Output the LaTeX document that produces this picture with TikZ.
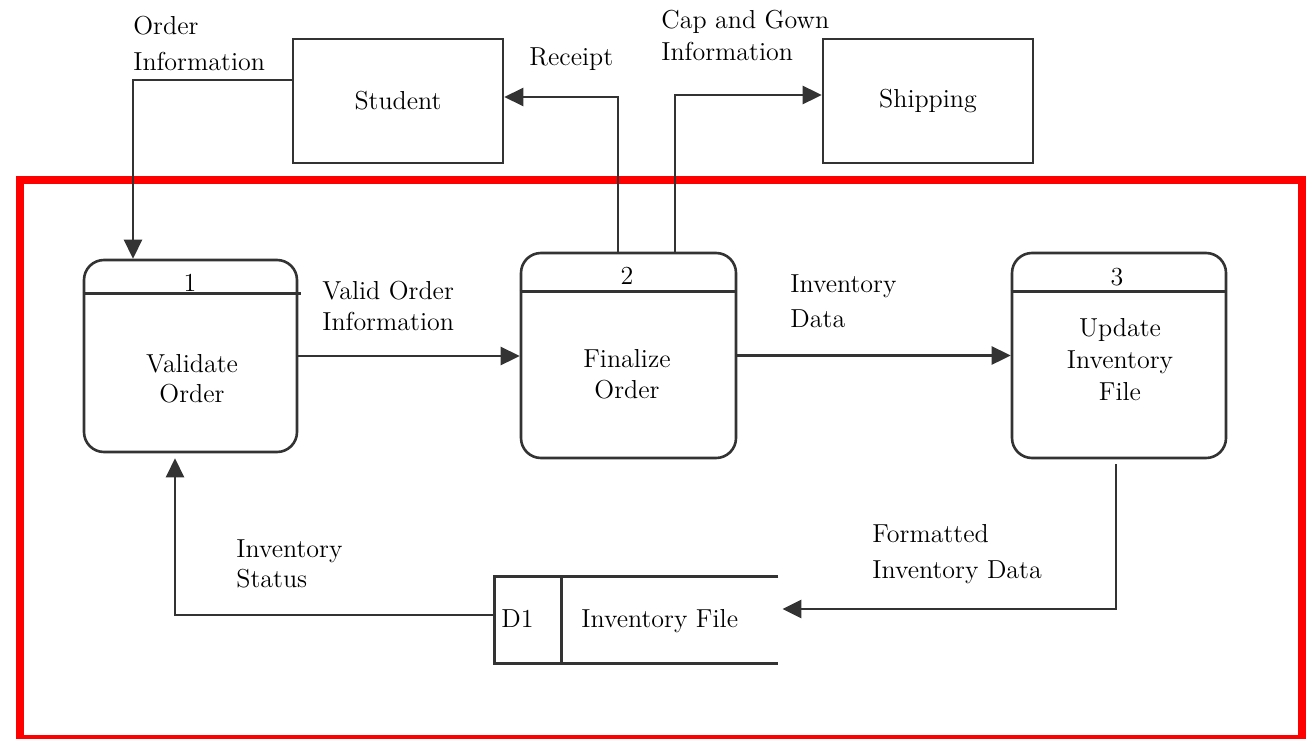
\documentclass[tikz,border=0pt]{standalone}
\usepackage{fontspec}
\newcommand\dfdfont{\rmfamily}
\newcommand\dfdpt{13}
\usetikzlibrary{arrows.meta,calc}
\begin{document}
\begin{tikzpicture}[x=0.5pt,y=-0.5pt,
  ink/.style={draw=black!80, line width=1.3pt},
  txt/.style={inner sep=0pt, text=black},
  proc/.style={ink, rounded corners=10pt, minimum width=#1, inner sep=0pt},
  ent/.style={ink, minimum width=105pt, minimum height=62pt, inner sep=0pt},
  flow/.style={ink, -{Triangle[length=9.5pt,width=9pt]}},
  lbl/.style={txt, anchor=north west, align=left, font=\dfdfont\fontsize{\dfdpt}{#1}\selectfont},
  plbl/.style={txt, anchor=north, align=center, font=\dfdfont\fontsize{\dfdpt}{#1}\selectfont},
  one/.style={txt, font=\dfdfont\fontsize{\dfdpt}{16}\selectfont}]
\useasboundingbox (0,0) rectangle (1309,738);
\clip (0,0) rectangle (1309,738);
\fill[white] (0,0) rectangle (1309,738);

% system boundary
\draw[red, line width=4pt] (20,179.5) rectangle (1302,739);

% external entities
\node[ent] (student) at (398,101) {};
\node[one] (studentT) at (398,101) {Student};
\node[ent] (shipping) at (928,101) {};
\node[one] (shippingT) at (928,101) {Shipping};

% processes
\node[proc=106.5pt, minimum height=96pt] (p1) at (190.5,356) {};
\node[proc=107.5pt, minimum height=102.5pt] (p2) at (628.5,355.5) {};
\node[proc=107pt, minimum height=102.5pt] (p3) at (1119,355.5) {};
\draw[ink] ([yshift=-17.5pt]p1.north west) -- ([xshift=1.5pt,yshift=-17.5pt]p1.north east);
\draw[ink] ([yshift=-20pt]p2.north west) -- ([yshift=-20pt]p2.north east);
\draw[ink] ([yshift=-20pt]p3.north west) -- ([yshift=-20pt]p3.north east);

\node[one, anchor=base] (n1) at (190,291) {1};
\node[one, anchor=base] (n2) at (627,284) {2};
\node[one, anchor=base] (n3) at (1117,285) {3};

\node[plbl=15] (t1) at (192,354) {Validate\\Order};
\node[plbl=15.5] (t2) at (627,349) {Finalize\\Order};
\node[plbl=16] (t3) at (1120,318) {Update\\Inventory\\File};

% data store
\node[minimum width=141.5pt, minimum height=43pt, inner sep=0pt] (ds) at (636.5,620) {};
\draw[ink] (ds.north east) -- (ds.north west) -- (ds.south west) -- (ds.south east);
\draw[ink] ([xshift=33.5pt]ds.north west) -- ([xshift=33.5pt]ds.south west);
\node[one, anchor=base west] (dsid) at (501,627) {D1};
\node[one, anchor=base west] (dsname) at (581,627) {Inventory File};

% data flows
\draw[flow] ([yshift=10.5pt]student.west) -| ([xshift=-28.75pt]p1.north);
\draw[flow] ([xshift=-5.25pt]p2.north) |- ([yshift=2pt]student.east);
\draw[flow] ([xshift=23.25pt]p2.north) |- ([yshift=3pt]shipping.west);
\draw[flow] (p1.east) -- (p1.east -| p2.west);
\draw[flow] (p2.east) -- (p2.east -| p3.west);
\draw[flow] ([xshift=-1.5pt,yshift=-2.5pt]p3.south) |- ([xshift=2pt,yshift=5.5pt]ds.east);
\draw[flow] ([yshift=2.5pt]ds.west) -| ([xshift=-7.75pt,yshift=-2.5pt]p1.south);

% flow labels
\node[lbl=18] (l1) at (133,16) {Order\\Information};
\node[one, anchor=base west] (l2) at (529,66) {Receipt};
\node[lbl=16] (l3) at (661,10) {Cap and Gown\\Information};
\node[lbl=15.5] (l4) at (322,281) {Valid Order\\Information};
\node[lbl=17.5] (l5) at (790,274) {Inventory\\Data};
\node[lbl=18] (l6) at (872,524) {Formatted\\Inventory Data};
\node[lbl=15] (l7) at (236,539) {Inventory\\Status};
\end{tikzpicture}
\end{document}
